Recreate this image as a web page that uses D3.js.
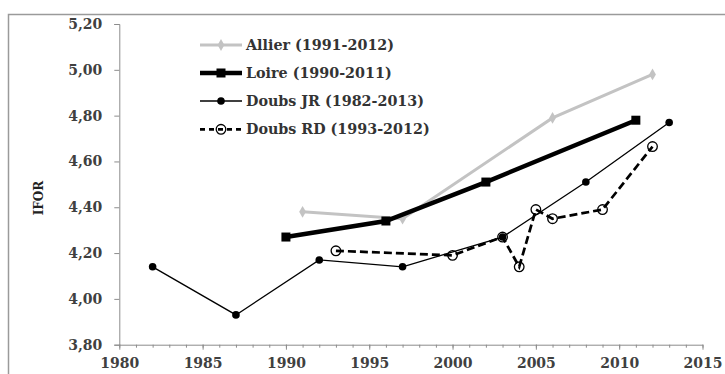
<!DOCTYPE html>
<html><head><meta charset="utf-8">
<script src="https://cdn.jsdelivr.net/npm/d3@7"></script>
<style>
body{margin:0;background:#fff;}
svg{display:block;}
</style></head>
<body>
<svg id="chart" width="725" height="374"></svg>
<script>
const xTicks = [1980,1985,1990,1995,2000,2005,2010,2015];
const yTicks = [3.8,4.0,4.2,4.4,4.6,4.8,5.0,5.2];

const allierYears = [1991,1997,2006,2012];
const allierVals  = [4.38,4.35,4.79,4.98];
const loireYears = [1990,1996,2002,2011];
const loireVals  = [4.27,4.34,4.51,4.78];
const doubsJRYears = [1982,1987,1992,1997,2003,2008,2013];
const doubsJRVals  = [4.14,3.93,4.17,4.14,4.27,4.51,4.77];
const doubsRDYears = [1993,2000,2003,2004,2005,2006,2009,2012];
const doubsRDVals  = [4.21,4.19,4.27,4.14,4.39,4.35,4.39,4.665];

const legendLabels = ["Allier (1991-2012)","Loire (1990-2011)","Doubs JR (1982-2013)","Doubs RD (1993-2012)"];

const svg = d3.select("#chart");
const x = d3.scaleLinear().domain([1980,2015]).range([119.3,702.5]);
const y = d3.scaleLinear().domain([3.8,5.2]).range([344.7,24]);
const fmt = d => d.toFixed(2).replace(".",",");
const font = "'DejaVu Serif', serif";

// outer frame
svg.append("rect").attr("x",8.5).attr("y",14.5).attr("width",740).attr("height",400)
  .attr("fill","none").attr("stroke","#9a9a9a").attr("stroke-width",1.5);

// y axis
const yAxis = svg.append("g").attr("transform","translate(119.3,0)")
  .call(d3.axisLeft(y).tickValues(yTicks).tickFormat(fmt).tickSize(5).tickPadding(12));
yAxis.select(".domain").attr("stroke","#8c8c8c");
yAxis.selectAll(".tick line").attr("stroke","#8c8c8c");
yAxis.selectAll("text").attr("font-family",font).attr("font-size",14).attr("fill","#404040").attr("font-weight","bold");

// x axis minor ticks
const xMinor = svg.append("g").attr("transform","translate(0,344.7)")
  .call(d3.axisBottom(x).tickValues(d3.range(1980,2016)).tickFormat("").tickSize(3).tickSizeOuter(0));
xMinor.select(".domain").attr("stroke","#8c8c8c");
xMinor.selectAll(".tick line").attr("stroke","#8c8c8c");
const xAxis = svg.append("g").attr("transform","translate(0,344.7)")
  .call(d3.axisBottom(x).tickValues(xTicks).tickFormat(d3.format("d")).tickSize(5).tickPadding(8).tickSizeOuter(0));
xAxis.select(".domain").remove();
xAxis.selectAll(".tick line").attr("stroke","#8c8c8c");
xAxis.selectAll("text").attr("font-family",font).attr("font-size",14).attr("fill","#404040").attr("font-weight","bold");

// y label
svg.append("text").attr("transform","translate(43,198) rotate(-90)")
  .attr("text-anchor","middle").attr("font-family",font).attr("font-weight","bold")
  .attr("font-size",12).attr("fill","#222").text("IFOR");

const line = d3.line().x(d=>x(d[0])).y(d=>y(d[1]));
const zip = (a,b)=>a.map((v,i)=>[v,b[i]]);

const series = [
  {data:zip(allierYears,allierVals), color:"#c3c3c3", w:3, dash:null, marker:"diamond"},
  {data:zip(loireYears,loireVals), color:"#000", w:4.5, dash:null, marker:"square"},
  {data:zip(doubsJRYears,doubsJRVals), color:"#000", w:1.3, dash:null, marker:"dot"},
  {data:zip(doubsRDYears,doubsRDVals), color:"#000", w:2.7, dash:"8,4", marker:"open"}
];

function drawMarker(g, type, cx, cy, color){
  if(type==="diamond"){
    g.append("path").attr("d",d3.symbol(d3.symbolDiamond,40)()).attr("transform",`translate(${cx},${cy})`).attr("fill",color);
  } else if(type==="square"){
    g.append("rect").attr("x",cx-4.5).attr("y",cy-4.5).attr("width",9).attr("height",9).attr("fill",color);
  } else if(type==="dot"){
    g.append("circle").attr("cx",cx).attr("cy",cy).attr("r",3.8).attr("fill",color);
  } else {
    g.append("circle").attr("cx",cx).attr("cy",cy).attr("r",4.8).attr("fill","none").attr("stroke",color).attr("stroke-width",1.3);
  }
}

const order = [3,2,0,1];
order.forEach(i=>{
  const s = series[i];
  const g = svg.append("g");
  g.append("path").attr("d",line(s.data)).attr("fill","none").attr("stroke",s.color)
    .attr("stroke-width",s.w).attr("stroke-dasharray",s.dash);
  s.data.forEach(d=>drawMarker(g,s.marker,x(d[0]),y(d[1]),s.color));
});

// legend
const legY = [45,73,101,129.3];
series.forEach((s,i)=>{
  const g = svg.append("g");
  g.append("line").attr("x1",200).attr("x2",242).attr("y1",legY[i]).attr("y2",legY[i])
    .attr("stroke",s.color).attr("stroke-width",s.w).attr("stroke-dasharray",s.dash ? "5,4" : null);
  drawMarker(g,s.marker,221,legY[i],s.color);
  g.append("text").attr("x",246).attr("y",legY[i]).attr("dy","0.35em")
    .attr("font-family",font).attr("font-size",14.3).attr("font-weight","bold").attr("fill","#333").text(legendLabels[i]);
});
</script>
</body></html>
